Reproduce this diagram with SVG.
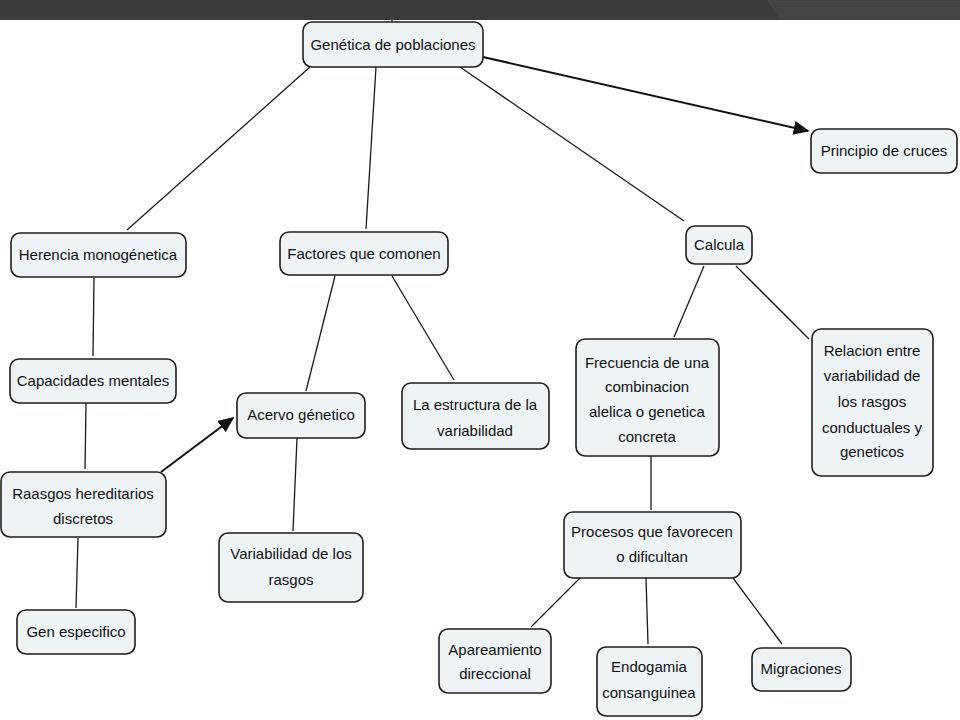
<svg xmlns="http://www.w3.org/2000/svg" width="960" height="720" viewBox="0 0 960 720">
<style>
.n rect{fill:#eef3f6;stroke:#1e1e1e;stroke-width:1.6}
.n text{font-family:"Liberation Sans",Arial,sans-serif;font-size:15px;fill:#111;text-anchor:middle}
#connectors line{stroke:#1a1a1a;stroke-width:1.3;fill:none}
#connectors line.a{stroke:#111;stroke-width:2}
</style>
<defs>
<marker id="arr" viewBox="0 0 10 10" refX="9" refY="5" markerWidth="8" markerHeight="8" markerUnits="userSpaceOnUse" orient="auto">
<path d="M0,0 L10,5 L0,10 z" fill="#111"/>
</marker>
<marker id="arrh" viewBox="0 0 10 10" refX="9" refY="5" markerWidth="16" markerHeight="14" markerUnits="userSpaceOnUse" orient="auto" preserveAspectRatio="none">
<path d="M0,0 L10,5 L0,10 z" fill="#111"/>
</marker>
</defs>
<rect x="0" y="0" width="960" height="720" fill="#ffffff"/>
<g id="topbar">
<rect x="0" y="0" width="960" height="20" fill="#3a3a3a"/>
<path d="M767,0 L960,0 L960,20 L780,20 Z" fill="#444444"/>
<line x1="775" y1="2" x2="960" y2="2" stroke="#4e4e4e" stroke-width="1"/>
</g>
<g id="connectors">
<line x1="392" y1="20" x2="392" y2="23"/>
<line x1="310" y1="67" x2="127" y2="230"/>
<line x1="376" y1="67" x2="366" y2="229"/>
<line x1="460" y1="67" x2="684" y2="221"/>
<line class="a" x1="483" y1="57" x2="808" y2="131" marker-end="url(#arrh)"/>
<line x1="94" y1="278" x2="93" y2="356"/>
<line x1="86" y1="403" x2="85" y2="469"/>
<line class="a" x1="161" y1="472" x2="233" y2="418" marker-end="url(#arrh)"/>
<line x1="78" y1="538" x2="76" y2="608"/>
<line x1="335" y1="276" x2="306" y2="391"/>
<line x1="392" y1="276" x2="454" y2="380"/>
<line x1="297" y1="438" x2="293" y2="531"/>
<line x1="704" y1="266" x2="674" y2="337"/>
<line x1="736" y1="266" x2="809" y2="339"/>
<line x1="651" y1="456" x2="651" y2="510"/>
<line x1="580" y1="578" x2="531" y2="627"/>
<line x1="646" y1="578" x2="648" y2="644"/>
<line x1="733" y1="578" x2="782" y2="644"/>
</g>
<g id="n-genetica" class="n"><rect x="303" y="22" width="180" height="45" rx="9"/><text x="393" y="50">Genética de poblaciones</text></g>
<g id="n-principio" class="n"><rect x="811" y="129" width="146" height="44" rx="9"/><text x="884" y="156">Principio de cruces</text></g>
<g id="n-herencia" class="n"><rect x="11" y="233" width="175" height="44" rx="9"/><text x="98" y="260">Herencia monogénetica</text></g>
<g id="n-factores" class="n"><rect x="280" y="232" width="168" height="43" rx="9"/><text x="364" y="259">Factores que comonen</text></g>
<g id="n-calcula" class="n"><rect x="686" y="226" width="66" height="38" rx="9"/><text x="719" y="250">Calcula</text></g>
<g id="n-capacidades" class="n"><rect x="10" y="359" width="166" height="44" rx="9"/><text x="93" y="386">Capacidades mentales</text></g>
<g id="n-acervo" class="n"><rect x="237" y="393" width="128" height="45" rx="9"/><text x="301" y="420">Acervo génetico</text></g>
<g id="n-estructura" class="n"><rect x="402" y="383" width="147" height="66" rx="9"/><text x="475" y="410">La estructura de la</text><text x="475" y="436">variabilidad</text></g>
<g id="n-frecuencia" class="n"><rect x="576" y="339" width="143" height="117" rx="9"/><text x="647" y="368">Frecuencia de una</text><text x="647" y="392">combinacion</text><text x="647" y="417">alelica o genetica</text><text x="647" y="442">concreta</text></g>
<g id="n-relacion" class="n"><rect x="812" y="329" width="121" height="147" rx="9"/><text x="872" y="356">Relacion entre</text><text x="872" y="381">variabilidad de</text><text x="872" y="407">los rasgos</text><text x="872" y="433">conductuales y</text><text x="872" y="457">geneticos</text></g>
<g id="n-raasgos" class="n"><rect x="1" y="472" width="165" height="65" rx="9"/><text x="83" y="499">Raasgos hereditarios</text><text x="83" y="524">discretos</text></g>
<g id="n-variabilidad" class="n"><rect x="219" y="533" width="144" height="69" rx="9"/><text x="291" y="559">Variabilidad de los</text><text x="291" y="585">rasgos</text></g>
<g id="n-gen" class="n"><rect x="17" y="610" width="118" height="44" rx="9"/><text x="76" y="637">Gen especifico</text></g>
<g id="n-procesos" class="n"><rect x="564" y="512" width="177" height="66" rx="9"/><text x="652" y="537">Procesos que favorecen</text><text x="652" y="562">o dificultan</text></g>
<g id="n-apareamiento" class="n"><rect x="439" y="629" width="112" height="64" rx="9"/><text x="495" y="655">Apareamiento</text><text x="495" y="679">direccional</text></g>
<g id="n-endogamia" class="n"><rect x="597" y="647" width="105" height="69" rx="9"/><text x="649" y="672">Endogamia</text><text x="649" y="698">consanguinea</text></g>
<g id="n-migraciones" class="n"><rect x="752" y="648" width="99" height="43" rx="9"/><text x="801" y="674">Migraciones</text></g>
</svg>
